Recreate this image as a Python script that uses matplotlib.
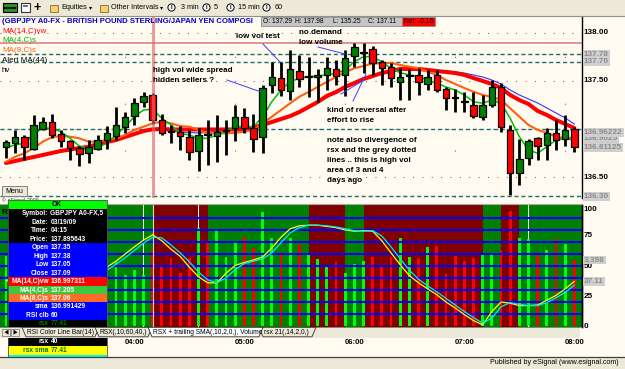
import matplotlib
matplotlib.use('Agg')
import matplotlib.pyplot as plt
from matplotlib.patches import Rectangle, Polygon, Circle
from matplotlib import transforms as mtrans
import numpy as np

# ---------------- data ----------------
opens = [136.816, 136.851, 136.913, 136.79, 137.00, 137.07, 136.95, 136.87, 136.80, 136.75,
         136.79, 136.885, 136.93, 137.02, 137.135, 137.28, 137.35, 137.09, 136.98, 136.97,
         136.92, 136.77, 136.95, 136.93, 136.98, 137.01, 137.13, 137.01, 136.92, 137.46,
         137.53, 137.40, 137.60, 137.54, 137.54, 137.56, 137.625, 137.56, 137.76, 137.79,
         137.83, 137.70, 137.65, 137.49, 137.55, 137.56, 137.47, 137.56, 137.42, 137.33,
         137.29, 137.25, 137.13, 137.25, 137.44, 136.99, 136.54, 136.70, 136.905, 136.83,
         136.96, 136.90, 137.00]
highs = [136.885, 136.99, 136.94, 137.15, 137.13, 137.16, 136.99, 136.885, 136.82, 136.885,
         136.94, 137.03, 137.23, 137.18, 137.32, 137.39, 137.38, 137.16, 137.04, 137.03,
         136.99, 137.01, 137.09, 137.15, 137.09, 137.25, 137.22, 137.16, 137.46, 137.70,
         137.70, 137.82, 137.77, 137.75, 137.63, 137.75, 137.72, 137.82, 137.90, 137.90,
         137.86, 137.72, 137.69, 137.635, 137.62, 137.635, 137.615, 137.615, 137.44, 137.42,
         137.385, 137.385, 137.354, 137.51, 137.48, 137.04, 136.90, 136.90, 136.92, 137.01,
         137.09, 137.146, 137.02]
lows = [136.698, 136.75, 136.68, 136.78, 136.99, 136.91, 136.81, 136.68, 136.61, 136.65,
        136.78, 136.79, 136.885, 136.955, 137.04, 137.23, 137.05, 136.94, 136.85, 136.78,
        136.68, 136.56, 136.63, 136.66, 136.73, 136.87, 136.96, 136.76, 136.75, 137.375,
        137.34, 137.30, 137.44, 137.33, 137.28, 137.41, 137.46, 137.34, 137.65, 137.58,
        137.56, 137.46, 137.44, 137.30, 137.30, 137.35, 137.41, 137.39, 137.20, 137.18,
        137.18, 137.115, 137.09, 137.23, 136.97, 136.31, 136.42, 136.625, 136.68, 136.68,
        136.78, 136.82, 136.76]
closes = [136.868, 136.92, 136.81, 137.04, 137.07, 136.94, 136.875, 136.80, 136.74, 136.81,
          136.885, 136.955, 137.04, 137.13, 137.27, 137.34, 137.09, 136.96, 136.97, 136.93,
          136.76, 136.94, 136.94, 136.97, 136.99, 137.13, 137.01, 136.90, 137.43, 137.54,
          137.41, 137.625, 137.52, 137.55, 137.56, 137.635, 137.55, 137.74, 137.85, 137.80,
          137.69, 137.64, 137.53, 137.545, 137.56, 137.49, 137.545, 137.41, 137.32, 137.32,
          137.28, 137.135, 137.25, 137.44, 137.02, 136.54, 136.69, 136.87, 136.82, 136.96,
          136.885, 136.99, 136.81]
volume = [3600, 3300, 3900, 4400, 3100, 3500, 3300, 3000, 3400, 3200,
          3100, 3500, 3350, 2625, 2885, 2625, 3900, 3140, 3500, 2730,
          3500, 5050, 4330, 4945, 3560, 4325, 4600, 4015, 5880, 4540,
          3820, 4540, 4210, 3750, 3450, 3140, 3300, 2730, 3190, 3350,
          3555, 3140, 3555, 4530, 3555, 3500, 4070, 4120, 2680, 3605,
          3350, 3500, 3655, 3655, 3915, 5920, 4530, 4480, 3760, 3915,
          4530, 4220, 3398]
ma14_vw = [136.646, 136.667, 136.688, 136.708, 136.729, 136.750, 136.771, 136.786, 136.802, 136.813,
           136.844, 136.865, 136.885, 136.917, 136.948, 136.979, 136.997, 137.000, 136.995, 136.995,
           136.995, 136.995, 136.995, 136.995, 136.995, 136.995, 137.000, 137.016, 137.042, 137.073,
           137.104, 137.135, 137.177, 137.229, 137.281, 137.344, 137.385, 137.438, 137.479, 137.521,
           137.552, 137.583, 137.604, 137.625, 137.625, 137.625, 137.615, 137.604, 137.594, 137.583,
           137.563, 137.531, 137.500, 137.469, 137.427, 137.354, 137.302, 137.260, 137.188, 137.146,
           137.094, 137.052, 137.010]
ma4 = [136.809, 136.833, 136.851, 136.948, 137.007, 137.007, 136.972, 136.903, 136.823, 136.789,
       136.809, 136.851, 136.938, 137.024, 137.128, 137.198, 137.205, 137.111, 137.042, 136.955,
       136.938, 136.903, 136.903, 136.938, 136.972, 137.024, 137.024, 137.024, 137.128, 137.284,
       137.406, 137.493, 137.528, 137.545, 137.552, 137.563, 137.580, 137.615, 137.701, 137.753,
       137.753, 137.701, 137.632, 137.586, 137.563, 137.545, 137.510, 137.476, 137.438, 137.406,
       137.354, 137.284, 137.268, 137.302, 137.268, 137.111, 136.920, 136.781, 136.747, 136.816,
       136.885, 136.903, 136.914]
ma8 = [136.659, 136.711, 136.747, 136.799, 136.868, 136.914, 136.927, 136.920, 136.903, 136.868,
       136.868, 136.885, 136.903, 136.938, 136.990, 137.024, 137.059, 137.076, 137.059, 137.031,
       137.024, 136.990, 136.955, 136.955, 136.955, 136.961, 136.972, 136.990, 137.059, 137.128,
       137.198, 137.268, 137.336, 137.385, 137.438, 137.490, 137.542, 137.594, 137.632, 137.656,
       137.682, 137.684, 137.688, 137.667, 137.649, 137.632, 137.597, 137.563, 137.510, 137.469,
       137.427, 137.389, 137.354, 137.336, 137.302, 137.216, 137.128, 137.042, 136.990, 136.961,
       136.920, 136.903, 136.885]
alert_start = 17
alert_ma44 = [136.990, 136.979, 136.969, 136.964, 136.958, 136.964, 136.974, 136.984, 136.995, 137.005,
              137.016, 137.031, 137.063, 137.094, 137.125, 137.167, 137.219, 137.270, 137.330, 137.375,
              137.430, 137.470, 137.510, 137.545, 137.575, 137.600, 137.620, 137.625, 137.625, 137.620,
              137.610, 137.605, 137.595, 137.583, 137.563, 137.542, 137.510, 137.469, 137.406, 137.354,
              137.313, 137.271, 137.219, 137.167, 137.115, 137.052]
rsx = [38, 36, 33, 35, 39, 41, 40, 37, 36, 40,
       44, 49, 54, 60, 66, 71.5, 76, 71, 64, 58,
       49, 41, 36, 36, 44, 50.5, 53, 55, 57.5, 65,
       74, 81, 83.5, 84, 84, 83, 82, 80, 79, 79.5,
       79, 71, 61, 51, 42, 36, 31, 26, 20, 15,
       9.5, 4.5, 1, 12, 20, 19, 17, 17, 17.5, 21.5,
       25.5, 31, 37.11]
rsx_sma = [39, 37, 34.5, 34, 37, 40, 40.5, 38.5, 36.5, 38,
           42, 46.5, 51.5, 57, 63, 69, 74, 73.5, 67.5, 61,
           53.5, 45, 38.5, 36, 40, 47, 52, 54, 56, 61,
           69.5, 77.5, 82, 84, 84, 83.5, 82.5, 81, 79.5, 79,
           79.5, 75, 66, 56, 46.5, 39, 33.5, 28.5, 23, 17.5,
           12, 7, 2.5, 6.5, 16, 19.5, 18, 17, 17, 19.5,
           23.5, 28, 34]
rsi_state = ("UUUUUUUUUUUUUUUUU" "DDDDDD" "UUUUUUUUUUU" "DDDD" "UU"
             "DDDDDDDDDDDDD" "UU" "DD" "UUUUUU")
hour_bars = [13, 25, 37, 49, 61]
hour_labels = ['04:00', '05:00', '06:00', '07:00', '08:00']
price_grid = [138.0, 137.5, 137.0, 136.5]
price_ticks = [138.00, 137.50, 136.50]
hv_levels = [137.78, 137.70, 137.00, 136.30]
marker_values = [137.78, 137.70, 136.9025, 136.96222, 136.81125, 136.30]
marker_texts = ['137.78', '137.70', '136.9025', '136.96222', '136.81125', '136.30']
cursor_bar = 16
cursor_price = 137.895643
rsx_levels = [10, 20, 30, 40, 50, 60, 70, 80, 90]
rsx_ticks = [0, 25, 50, 75, 100]
last_volume = 3398
last_rsx = 37.11

# ---------------- fonts ----------------
plt.rcParams['font.family'] = ['Liberation Sans', 'DejaVu Sans']

W, H = 625, 369
fig = plt.figure(figsize=(W / 100, H / 100), dpi=100)
BG = '#fffbf0'
fig.patch.set_facecolor(BG)


def frac(x0, y0, x1, y1):
    return [x0 / W, 1 - y1 / H, (x1 - x0) / W, (y1 - y0) / H]


n = len(closes)
x = np.arange(n)
BAR_PX = 110 / 12.0
FIRST_PX = 6.0
RIGHT_PX = 582
xlim = ((0 - FIRST_PX) / BAR_PX, (RIGHT_PX - FIRST_PX) / BAR_PX)
up = [c >= o for o, c in zip(opens, closes)]


def clean(a):
    a.set_xticks([])
    a.set_yticks([])
    for s in ('top', 'left', 'bottom'):
        a.spines[s].set_visible(False)
    a.spines['right'].set_linewidth(1.0)


# ---------------- price panel ----------------
ax = fig.add_axes(frac(0, 16, RIGHT_PX, 197.5), zorder=2)
ax.set_facecolor(BG)
ax.set_xlim(*xlim)
ax.set_ylim(136.2865, 138.177)
clean(ax)

for p in price_grid:
    ax.axhline(p, color='#b04848', lw=0.75, ls=(0, (1, 8)), zorder=0.5)
for b in hour_bars:
    ax.axvline(b, color='#b04848', lw=0.75, ls=(0, (1, 44)), zorder=0.5)
for p in hv_levels:
    ax.axhline(p, color='#1f6f6f', lw=1.0, ls=(0, (3, 2)), zorder=1)
ax.axhline(cursor_price, color='#e08a8a', lw=1.3, zorder=1.2)

xa = np.arange(alert_start, alert_start + len(alert_ma44))
ax.plot(xa, alert_ma44, color='#3434ff', lw=0.8, zorder=2.0)
ax.plot(x, ma14_vw, color='#ff0000', lw=2.9, zorder=2.1, solid_capstyle='round')
ax.plot(x, ma8, color='#ff6010', lw=1.5, zorder=2.2)
ax.plot(x, ma4, color='#00c000', lw=1.1, zorder=2.3)

ax.vlines(x, lows, highs, color='black', lw=2.0, zorder=3)
body_lo = [min(o, c) for o, c in zip(opens, closes)]
body_h = [max(abs(c - o), 0.004) for o, c in zip(opens, closes)]
ax.bar(x, body_h, bottom=body_lo, width=0.7,
       color=['#008000' if u else '#ff0000' for u in up],
       edgecolor='black', lw=0.9, zorder=3.1)
ax.axvline(cursor_bar, color='#e06a6a', lw=2.2, alpha=0.65, zorder=4)

LBL = 5.9
tp = mtrans.blended_transform_factory(ax.transAxes, ax.transData)
LX = 1 + 2.0 / RIGHT_PX
for p in price_ticks:
    ax.text(LX, p, f'{p:.2f}', transform=tp, ha='left', va='center', size=LBL,
            weight='bold', clip_on=False)
for v, s in zip(marker_values, marker_texts):
    ax.text(LX, v, s, transform=tp, ha='left', va='center', size=LBL, color='#8c8c8c',
            weight='bold', clip_on=False,
            bbox=dict(boxstyle='square,pad=0.12', fc='#cfcfcf', ec='none'))

# ---------------- lower panel ----------------
axv = fig.add_axes(frac(0, 205, RIGHT_PX, 327), zorder=3)
axv.set_xlim(*xlim)
axv.set_ylim(-51.5, 6229)
clean(axv)
STATE_COL = {'U': '#008000', 'D': '#800000'}
for i, st in enumerate(rsi_state):
    axv.axvspan(i - 1, i, color=STATE_COL[st], lw=0, antialiased=False, zorder=0)
axv.axvspan(n - 1, n + 1, color=STATE_COL[rsi_state[-1]], lw=0, antialiased=False, zorder=0)
axv.bar(x, volume, width=0.32, color=['#00ff00' if u else '#ff0000' for u in up],
        lw=0, zorder=1)

axr = fig.add_axes(frac(0, 205, RIGHT_PX, 327), zorder=4)
axr.patch.set_visible(False)
axr.set_xlim(*xlim)
axr.set_ylim(-0.83, 100.83)
clean(axr)
for lv in rsx_levels:
    axr.axhline(lv, color='#0000ff', lw=1.5, zorder=1)
axr.axvline(cursor_bar, color='#d0dcc8', lw=0.8, zorder=1.5)
axr.plot(x, rsx, color='#ffff00', lw=0.9, zorder=2)
axr.plot(x, rsx_sma, color='#00e8ff', lw=0.9, zorder=2.1)

tr = mtrans.blended_transform_factory(axr.transAxes, axr.transData)
tv = mtrans.blended_transform_factory(axr.transAxes, axv.transData)
for t in rsx_ticks:
    axr.text(LX, t if t < 100 else 97, str(t), transform=tr, ha='left', va='center',
             size=LBL, weight='bold', clip_on=False)
axr.text(LX, last_volume, f'{last_volume:,}', transform=tv, ha='left', va='center',
         size=LBL, weight='bold', color='#8c8c8c', clip_on=False,
         bbox=dict(boxstyle='square,pad=0.12', fc='#cfcfcf', ec='none'))
axr.text(LX, last_rsx, f'{last_rsx:.2f}', transform=tr, ha='left', va='center',
         size=LBL, weight='bold', color='#8c8c8c', clip_on=False,
         bbox=dict(boxstyle='square,pad=0.12', fc='#cfcfcf', ec='none'))

tt = mtrans.blended_transform_factory(axv.transData, fig.transFigure)
for b, lab in zip(hour_bars, hour_labels):
    axv.text(b, 1 - 343 / H, lab, transform=tt, ha='left', va='center', size=5.6,
             weight='bold', clip_on=False)

# ---------------- overlay (window chrome, notes, data window) ----------------
ov = fig.add_axes([0, 0, 1, 1], zorder=10)
ov.set_xlim(0, W)
ov.set_ylim(H, 0)
ov.axis('off')
ov.patch.set_visible(False)


def box(x0, y0, x1, y1, fc, ec='none', lw=0.8, z=1):
    ov.add_patch(Rectangle((x0, y0), x1 - x0, y1 - y0, fc=fc, ec=ec, lw=lw, zorder=z))


def txt(x0, y0, s, size=5.5, color='black', weight='normal', ha='left', z=5, **kw):
    ov.text(x0, y0, s, size=size, color=color, weight=weight, ha=ha, va='center',
            zorder=z, **kw)


GREY = '#ece9d8'
# toolbar
box(0, 0, W, 15.5, GREY)
ov.plot([0, W], [15.5, 15.5], color='#909090', lw=0.8, zorder=2)
box(3, 3, 17, 12, '#2e8b2e', ec='black', z=3)
ov.plot([5, 15], [7.5, 7.5], color='black', lw=1.2, zorder=4)
box(21, 3, 30, 12, 'white', ec='#333333', z=3)
box(23, 5, 28, 7, '#5070c0', z=4)
txt(33, 7.5, '+', size=9, weight='bold')
for fx in (50, 100):
    box(fx, 4.5, fx + 7.5, 12, '#f2d374', ec='#8a6a20', lw=0.6, z=3)
TB = 5.2
txt(61, 7.5, 'Equities', size=TB)
txt(89, 7.5, '▾', size=4.5, family='DejaVu Sans')
txt(111, 7.5, 'Other Intervals', size=TB)
txt(159.5, 7.5, '▾', size=4.5, family='DejaVu Sans')
for cx, lab, lx in ((171.5, '3 min', 181), (206.5, '5', 214), (230.5, '15 min', 238), (266.5, '60', 275)):
    ov.add_patch(Circle((cx, 7.5), 3.6, fc='white', ec='black', lw=0.7, zorder=3))
    txt(cx, 7.6, 'I', size=4.2, weight='bold', ha='center')
    txt(lx, 7.5, lab, size=TB)

# title + OHLC box
txt(2, 21.2, '(GBPJPY A0-FX - BRITISH POUND STERLING/JAPAN YEN COMPOSI', size=5.6,
    color='#0000c8', weight='bold', z=3)
box(261, 16.5, 402, 26, '#c4c4c4', ec='#8c8c8c', lw=0.6, z=4)
box(402, 16.5, 435, 26, '#ff0000', ec='#8c8c8c', lw=0.6, z=4)
for sx, s in ((263, 'O: 137.29'), (295, 'H: 137.98'), (333, 'L: 135.25'),
              (368, 'C: 137.11'), (404, 'Net: -0.16')):
    txt(sx, 21.3, s, size=4.8, z=6)

# legends on the left
for ly, s, c in ((31.5, 'MA(14,C)vw', '#ff0000'), (41, 'MA(4,C)s', '#00b000'),
                 (51, 'MA(8,C)s', '#ff6010'), (61, 'Alert MA(44)', 'black'),
                 (70.5, 'hv', 'black')):
    txt(2, ly, s, size=5.8, color=c)

# annotations
NOTE = dict(size=5.8, weight='bold')
txt(236, 36.5, 'low vol test', **NOTE)
txt(299, 32, 'no demand', **NOTE)
txt(299, 42, 'low volume', **NOTE)
txt(153, 70, 'high vol wide spread', **NOTE)
txt(153, 80, 'hidden sellers ?', **NOTE)
txt(327, 110, 'kind of reversal after', **NOTE)
txt(327, 120, 'effort to rise', **NOTE)
for k, s in enumerate(['note also divergence of', 'rsx and the grey dotted',
                       'lines .. this is high vol', 'area of 3 and 4', 'days ago']):
    txt(327, 140 + 10 * k, s, **NOTE)
for (x0, y0), (x1, y1) in (((263, 44), (280, 62)), ((318, 47), (345, 54)),
                           ((227, 80), (261, 92)), ((353, 101), (366, 74)),
                           ((341, 94), (364, 80))):
    ov.plot([x0, x1], [y0, y1], color='#3c3cff', lw=0.7, zorder=4)

# menu button, copyright
box(2, 186, 27, 196, GREY, ec='#808080', lw=0.7, z=4)
txt(14.5, 191.2, 'Menu', size=5.0, ha='center', z=6)
txt(2, 199.8, '© eSignal 2009', size=3.8, color='#404040', z=3)
ov.plot([0, RIGHT_PX], [203.8, 203.8], color='#a8a8a8', lw=0.8, zorder=2)

# lower-left study name
txt(1, 212.5, 'R', size=6.0, weight='bold', z=3)

# data window
DW0, DW1 = 7.5, 107
DWS = 4.8
box(DW0, 200, DW1, 209, '#00ff00', z=4)
txt((DW0 + DW1) / 2, 204.6, 'OK', size=DWS, weight='bold', ha='center', z=6)
sections = [
    (209, 243, 'black', 'white', [('Symbol:', 'GBPJPY A0-FX,5'), ('Date:', '03/19/09'),
                                  ('Time:', '04:15'), ('Price:', '137.895643')]),
    (243, 277, '#0000ff', 'white', [('Open', f'{opens[cursor_bar]:.2f}'),
                                    ('High', f'{highs[cursor_bar]:.2f}'),
                                    ('Low', f'{lows[cursor_bar]:.2f}'),
                                    ('Close', f'{closes[cursor_bar]:.2f}')]),
    (277, 285.5, '#ff0000', 'white', [('MA(14,C)vw', '136.997311')]),
    (285.5, 294, '#3cc83c', 'white', [('MA(4,C)s', '137.205')]),
    (294, 302, '#ff6a28', 'white', [('MA(8,C)s', '137.06')]),
    (302, 320, '#0000ff', 'white', [('sma', '136.991429'), ('RSI clb', '60')]),
    (320, 327, 'black', '#007a00', [('rsx', '77.41')]),
    (337, 346, 'black', 'white', [('rsx', '40')]),
    (346, 355, '#ffff00', '#007a00', [('rsx sma', '77.41')]),
    (355, 358, '#00ffff', '#000000', []),
]
for y0, y1, fc, tc, rows in sections:
    box(DW0, y0, DW1, y1, fc, z=4)
    step = (y1 - y0) / max(len(rows), 1)
    for k, (lab, val) in enumerate(rows):
        yy = y0 + step * (k + 0.55)
        txt(48.5, yy, lab, size=DWS, color=tc, weight='bold', ha='right', z=6)
        txt(50.5, yy, val, size=DWS, color=tc, weight='bold', z=6)
ov.add_patch(Rectangle((DW0, 200), DW1 - DW0, 158, fc='none', ec='#505050', lw=0.6, zorder=7))

# tab bar
box(0, 327, 580, 337.5, GREY, z=8)
ov.plot([0, 580], [327, 327], color='#808080', lw=0.7, zorder=9)
for bx, pts in ((2, [(4.5, 332.2), (8.5, 329.7), (8.5, 334.7)]),
                (11, [(17.5, 332.2), (13.5, 329.7), (13.5, 334.7)])):
    box(bx, 328.5, bx + 8, 336, GREY, ec='#808080', lw=0.6, z=9)
    ov.add_patch(Polygon(pts, fc='black', ec='none', zorder=10))
tabs = [(22, 99, 'RSI Color Line Bar(14)', GREY), (95, 152, 'RSX(,10,60,40,)', GREY),
        (259, 316, 'rsx 21(,14,2,0,)', GREY),
        (148, 263, 'RSX + trailing SMA(,10,2,0,), Volume', 'white')]
for tx0, tx1, lab, fc in tabs:
    ov.add_patch(Polygon([(tx0, 327.3), (tx0 + 4, 336.8), (tx1 - 4, 336.8), (tx1, 327.3)],
                         closed=True, fc=fc, ec='#303030', lw=0.6, zorder=9))
    txt(tx0 + 5, 332.2, lab, size=4.8, z=11)

# status bar
box(0, 356.5, W, H, GREY, z=8)
ov.plot([0, W], [356.5, 356.5], color='#404040', lw=0.9, zorder=9)
txt(619, 363, 'Published by eSignal (www.esignal.com)', size=5.1, ha='right', z=10)

fig.savefig('out.png', dpi=100, facecolor=fig.get_facecolor())
